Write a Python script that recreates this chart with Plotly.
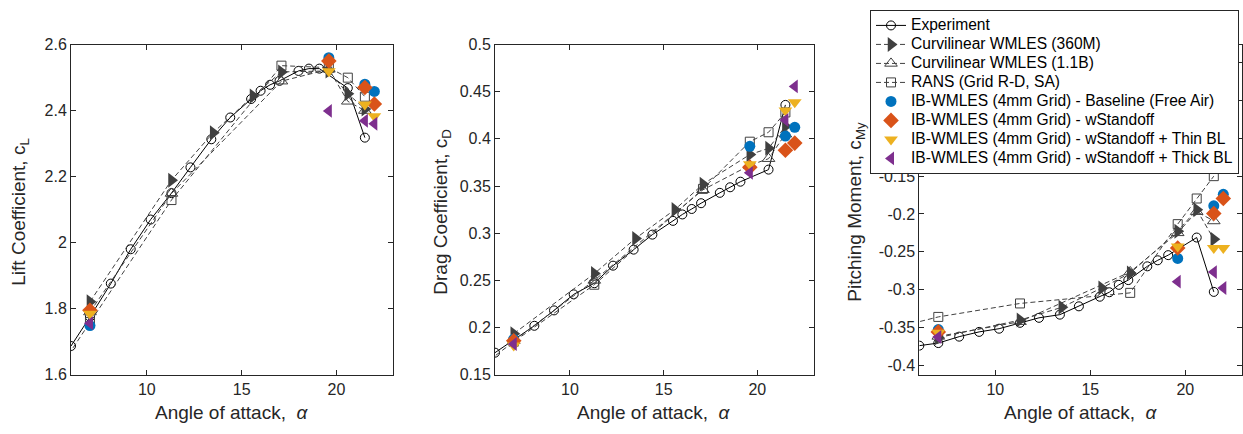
import plotly.graph_objects as go

# ---------------- data ----------------
alpha_exp = [6.0, 7.0, 8.1, 9.15, 10.2, 11.3, 12.3, 13.4, 14.4, 15.5, 16.0, 16.5, 17.0, 18.0, 18.55, 19.1, 20.6, 21.5]
cl_exp = [1.687, 1.775, 1.876, 1.98, 2.07, 2.15, 2.228, 2.313, 2.379, 2.435, 2.46, 2.478, 2.49, 2.52, 2.527, 2.527, 2.468, 2.318]
cd_exp = [0.1734, 0.187, 0.2019, 0.2182, 0.2352, 0.247, 0.2656, 0.2826, 0.2985, 0.3131, 0.3199, 0.3257, 0.3318, 0.3428, 0.3487, 0.3546, 0.3674, 0.436]
cm_exp = [-0.3742, -0.3708, -0.3623, -0.356, -0.3518, -0.344, -0.3374, -0.3332, -0.3222, -0.3095, -0.3036, -0.2938, -0.2875, -0.2693, -0.2613, -0.2545, -0.2312, -0.3031]

alpha_cw360 = [7.0, 11.3, 13.5, 15.6, 17.1, 19.6, 20.6, 21.5]
cl_cw360 = [1.821, 2.189, 2.333, 2.444, 2.517, 2.52, 2.451, 2.405]
cd_cw360 = [0.1935, 0.2572, 0.2945, 0.325, 0.352, 0.3833, 0.39, 0.4133]
cm_cw360 = [-0.3636, -0.3404, -0.3235, -0.298, -0.2782, -0.2228, -0.1944, -0.2334]

alpha_cw11 = [7.0, 11.3, 17.1, 19.6, 20.6, 21.5]
cl_cw11 = [1.79, 2.149, 2.489, 2.525, 2.428, 2.40]
cd_cw11 = [0.186, 0.250, 0.346, 0.372, 0.379, 0.405]
cm_cw11 = [-0.362, -0.3425, -0.2767, -0.225, -0.197, -0.2093]

alpha_rans = [4.0, 7.0, 11.3, 17.1, 19.6, 20.6, 21.5]
cl_rans = [1.50, 1.76, 2.129, 2.536, 2.53, 2.4996, 2.442]
cd_rans = [0.140, 0.185, 0.2454, 0.347, 0.397, 0.407, 0.428]
cm_rans = [-0.355, -0.3362, -0.3184, -0.3044, -0.2135, -0.1796, -0.150]

alpha_ib = [7.0, 19.6, 21.5, 22.0]
cl_base = [1.749, 2.560, 2.480, 2.458]
cl_stand = [1.795, 2.55, 2.47, 2.42]
cl_thin = [1.785, 2.519, 2.418, 2.383]
cl_thick = [1.756, 2.399, 2.369, 2.36]
cd_base = [0.1877, 0.3921, 0.403, 0.4122]
cd_stand = [0.186, 0.370, 0.388, 0.3955]
cd_thin = [0.181, 0.3731, 0.4301, 0.4387]
cd_thick = [0.1826, 0.364, 0.42, 0.4556]
cm_base = [-0.353, -0.2588, -0.1893, -0.1741]
cm_stand = [-0.356, -0.245, -0.1995, -0.1796]
cm_thin = [-0.3573, -0.243, -0.245, -0.245]
cm_thick = [-0.3628, -0.2896, -0.2769, -0.298]

names = ["Experiment", "Curvilinear WMLES (360M)", "Curvilinear WMLES (1.1B)", "RANS (Grid R-D, SA)",
         "IB-WMLES (4mm Grid) - Baseline (Free Air)", "IB-WMLES (4mm Grid) - wStandoff",
         "IB-WMLES (4mm Grid) - wStandoff + Thin BL", "IB-WMLES (4mm Grid) - wStandoff + Thick BL"]

x_ticks = [10, 15, 20]
cl_ticks = [1.6, 1.8, 2.0, 2.2, 2.4, 2.6]
cl_ticktext = ["1.6", "1.8", "2", "2.2", "2.4", "2.6"]
cd_ticks = [0.15, 0.2, 0.25, 0.3, 0.35, 0.4, 0.45, 0.5]
cd_ticktext = ["0.15", "0.2", "0.25", "0.3", "0.35", "0.4", "0.45", "0.5"]
cm_ticks = [-0.4, -0.35, -0.3, -0.25, -0.2, -0.15, -0.1, -0.05, 0]
cm_ticktext = ["-0.4", "-0.35", "-0.3", "-0.25", "-0.2", "-0.15", "-0.1", "-0.05", "0"]

# ---------------- styles ----------------
FONT = "Liberation Sans, Arial, Helvetica, sans-serif"
AX = "#262626"
DG = "#404040"
BLUE, ORANGE, YELLOW, PURPLE = "#0072BD", "#D95319", "#EDB120", "#7E2F8E"
DASH = "5px,3px"

def lg(name):
    return '<span style="font-size:15.6px">' + name + '</span>'

fig = go.Figure()

panels = [
    ("x", "y", cl_exp, cl_cw360, cl_cw11, cl_rans, [cl_base, cl_stand, cl_thin, cl_thick]),
    ("x2", "y2", cd_exp, cd_cw360, cd_cw11, cd_rans, [cd_base, cd_stand, cd_thin, cd_thick]),
    ("x3", "y3", cm_exp, cm_cw360, cm_cw11, cm_rans, [cm_base, cm_stand, cm_thin, cm_thick]),
]

ib_styles = [
    dict(symbol="circle", color=BLUE, size=11),
    dict(symbol="diamond", color=ORANGE, size=12),
    dict(symbol="triangle-down", color=YELLOW, size=12),
    dict(symbol="triangle-left", color=PURPLE, size=12),
]

for i, (xa, ya, e, c360, c11, rans, ibs) in enumerate(panels):
    show = (i == 0)
    fig.add_trace(go.Scatter(x=alpha_exp, y=e, xaxis=xa, yaxis=ya, mode="lines+markers", name=lg(names[0]),
                             showlegend=show,
                             line=dict(color="black", width=1),
                             marker=dict(symbol="circle-open", size=9, color="black", line=dict(width=1))))
    fig.add_trace(go.Scatter(x=alpha_cw360, y=c360, xaxis=xa, yaxis=ya, mode="lines+markers", name=lg(names[1]),
                             showlegend=show,
                             line=dict(color=DG, width=1, dash=DASH),
                             marker=dict(symbol="triangle-right", size=13, color=DG, line=dict(width=0))))
    fig.add_trace(go.Scatter(x=alpha_cw11, y=c11, xaxis=xa, yaxis=ya, mode="lines+markers", name=lg(names[2]),
                             showlegend=show,
                             line=dict(color=DG, width=1, dash=DASH),
                             marker=dict(symbol="triangle-up-open", size=11, color=DG, line=dict(width=1))))
    fig.add_trace(go.Scatter(x=alpha_rans, y=rans, xaxis=xa, yaxis=ya, mode="lines+markers", name=lg(names[3]),
                             showlegend=show,
                             line=dict(color=DG, width=1, dash=DASH),
                             marker=dict(symbol="square-open", size=9, color=DG, line=dict(width=1))))
    for k in range(4):
        st = ib_styles[k]
        fig.add_trace(go.Scatter(x=alpha_ib, y=ibs[k], xaxis=xa, yaxis=ya, mode="markers", name=lg(names[4 + k]),
                                 showlegend=show,
                                 marker=dict(symbol=st["symbol"], size=st["size"], color=st["color"], line=dict(width=0))))

W, H = 1243, 434
def px_x(a, b):
    return [a / W, b / W]

ydom = [1 - 381.7 / H, 1 - 38 / H]

common_x = dict(range=[6, 23], tickvals=x_ticks, ticktext=[str(v) for v in x_ticks],
                ticks="inside", ticklen=5, tickcolor=AX, tickwidth=1,
                showline=True, linecolor=AX, linewidth=1, mirror="ticks",
                showgrid=False, zeroline=False, tickfont=dict(family=FONT, size=16, color=AX))
common_y = dict(ticks="inside", ticklen=5, tickcolor=AX, tickwidth=1,
                showline=True, linecolor=AX, linewidth=1, mirror="ticks",
                showgrid=False, zeroline=False, tickfont=dict(family=FONT, size=16, color=AX), domain=ydom)

fig.update_layout(
    width=W, height=H, margin=dict(l=0, r=0, t=0, b=0),
    paper_bgcolor="white", plot_bgcolor="white",
    font=dict(family=FONT, color=AX),
    xaxis=dict(domain=px_x(71, 393.3), anchor="y", **common_x),
    xaxis2=dict(domain=px_x(495, 813.5), anchor="y2", **common_x),
    xaxis3=dict(domain=px_x(919.3, 1242.3), anchor="y3", **common_x),
    yaxis=dict(anchor="x", range=[1.6, 2.6], tickvals=cl_ticks, ticktext=cl_ticktext, **common_y),
    yaxis2=dict(anchor="x2", range=[0.15, 0.5], tickvals=cd_ticks, ticktext=cd_ticktext, **common_y),
    yaxis3=dict(anchor="x3", range=[-0.4127, 0.0241], tickvals=cm_ticks, ticktext=cm_ticktext, **common_y),
    legend=dict(x=870 / W, y=1 - 2 / H, xanchor="left", yanchor="top",
                bgcolor="white", bordercolor=AX, borderwidth=1,
                font=dict(family=FONT, size=11.8, color="black"), tracegroupgap=0,
                itemwidth=30),
    showlegend=True,
)

ann = []
xt = "Angle of attack,  <i>α</i>"
for cx in [232, 654, 1081]:
    ann.append(dict(text=xt, x=cx / W, y=1 - 421 / H, xref="paper", yref="paper",
                    xanchor="center", yanchor="middle", showarrow=False,
                    font=dict(family=FONT, size=19, color=AX)))
ytitles = [("Lift Coefficient, c<sub>L</sub>", 20), ("Drag Coefficient, c<sub>D</sub>", 442),
           ("Pitching Moment, c<sub>My</sub>", 856)]
for t, cx in ytitles:
    ann.append(dict(text=t, x=cx / W, y=1 - 212 / H, xref="paper", yref="paper",
                    xanchor="center", yanchor="middle", showarrow=False, textangle=-90,
                    font=dict(family=FONT, size=19, color=AX)))
fig.update_layout(annotations=ann)

fig.write_html("out.html")
